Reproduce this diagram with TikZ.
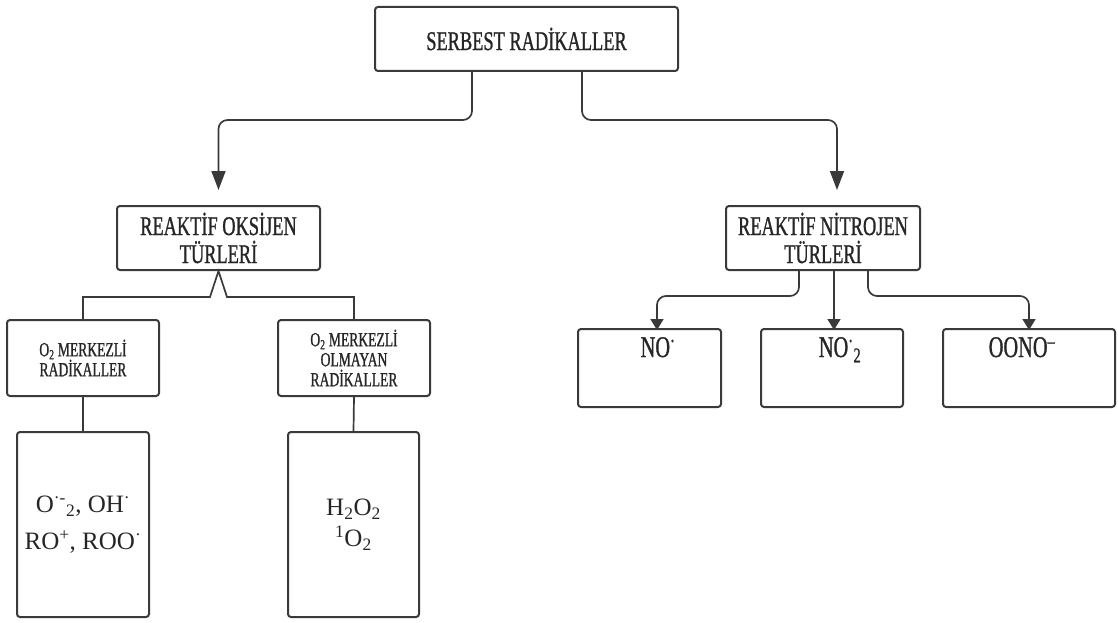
\documentclass[tikz,border=0pt]{standalone}
\usepackage{fontspec}
\setmainfont{Liberation Serif}
\newfontfamily\cond[FakeStretch=0.68,FakeBold=1]{Liberation Serif}
\usetikzlibrary{arrows.meta,calc}
\definecolor{ln}{HTML}{3A3A3A}
\begin{document}
\begin{tikzpicture}[x=1pt,y=-1pt,
  box/.style={draw=ln, line width=2pt, rounded corners=3pt, inner sep=0pt, align=center},
  conn/.style={draw=ln, line width=1.7pt, rounded corners=9pt},
  bigarr/.style={-{Triangle[length=19pt,width=14pt]}},
  smallarr/.style={-{Triangle[length=11pt,width=13pt]}},
  headf/.style={font=\cond\fontsize{27}{28}\selectfont, text=black!85},
  subf/.style={font=\cond\fontsize{20}{20}\selectfont, text=black!85},
  chemf/.style={font=\fontsize{25}{34}\selectfont, text=black!85},
  nof/.style={font=\cond\fontsize{30}{30}\selectfont, text=black!85}]
\useasboundingbox (0,0) rectangle (1118,623);

% boxes
\node[box, headf, minimum width=303pt, minimum height=64pt] (top) at (526.5,39) {SERBEST RADİKALLER};
\node[box, headf, minimum width=203pt, minimum height=64pt] (rot) at (218.5,238) {REAKTİF OKSİJEN\\TÜRLERİ};
\node[box, headf, minimum width=194pt, minimum height=64pt] (rnt) at (823,238) {REAKTİF NİTROJEN\\TÜRLERİ};
\node[box, subf, minimum width=152pt, minimum height=76pt] (o2a) at (83,358) {O\textsubscript{2} MERKEZLİ\\RADİKALLER};
\node[box, subf, minimum width=152pt, minimum height=76pt] (o2b) at (354,358) {O\textsubscript{2} MERKEZLİ\\OLMAYAN\\RADİKALLER};
\node[box, chemf, minimum width=132pt, minimum height=185pt] (bla) at (83,524.5) {O\textsuperscript{·-}\textsubscript{2}, OH\textsuperscript{·}\\[3pt]RO\textsuperscript{+}, ROO\textsuperscript{·}};
\node[box, chemf, minimum width=131pt, minimum height=185pt] (blb) at (353.5,524.5) {H\textsubscript{2}O\textsubscript{2}\\[-3pt]\textsuperscript{1}O\textsubscript{2}};
\node[box, minimum width=143pt, minimum height=78pt] (no1) at (649.5,368) {};
\node[box, minimum width=142pt, minimum height=78pt] (no2) at (832,368) {};
\node[box, minimum width=172pt, minimum height=78pt] (no3) at (1029,368) {};
\node[nof, anchor=base] (no1t) at (658,357) {NO\textsuperscript{·}};
\node[nof, anchor=base] (no2t) at (840,357) {NO\textsuperscript{·}\textsubscript{2}};
\node[nof, anchor=base] (no3t) at (1022,357) {OONO\textsuperscript{–}};

% free arrow ends
\coordinate (aL) at (218.5,190);
\coordinate (aR) at (837,190);

% top connectors
\draw[conn,bigarr] (top.south -| 472,0) |- (300,120) -| (aL);
\draw[conn,bigarr] (top.south -| 582,0) |- (700,120) -| (aR);

% oxygen branch
\draw[conn, rounded corners=0pt] (o2a.north) |- (210,297) -- (rot.south) -- (227,297) -| (o2b.north);
\draw[conn] (o2a.south) -- (bla.north);
\draw[conn] (o2b.south) -- (blb.north);

% nitrogen branch
\draw[conn,smallarr] (rnt.south -| 799,0) |- (720,296) -| ([xshift=7.5pt,yshift=-2pt]no1.north);
\draw[conn,smallarr] (rnt.south -| 834,0) -- ([yshift=-2pt]no2.north -| 834,0);
\draw[conn,smallarr] (rnt.south -| 868,0) |- (950,296) -| ([yshift=-2pt]no3.north);
\end{tikzpicture}
\end{document}
